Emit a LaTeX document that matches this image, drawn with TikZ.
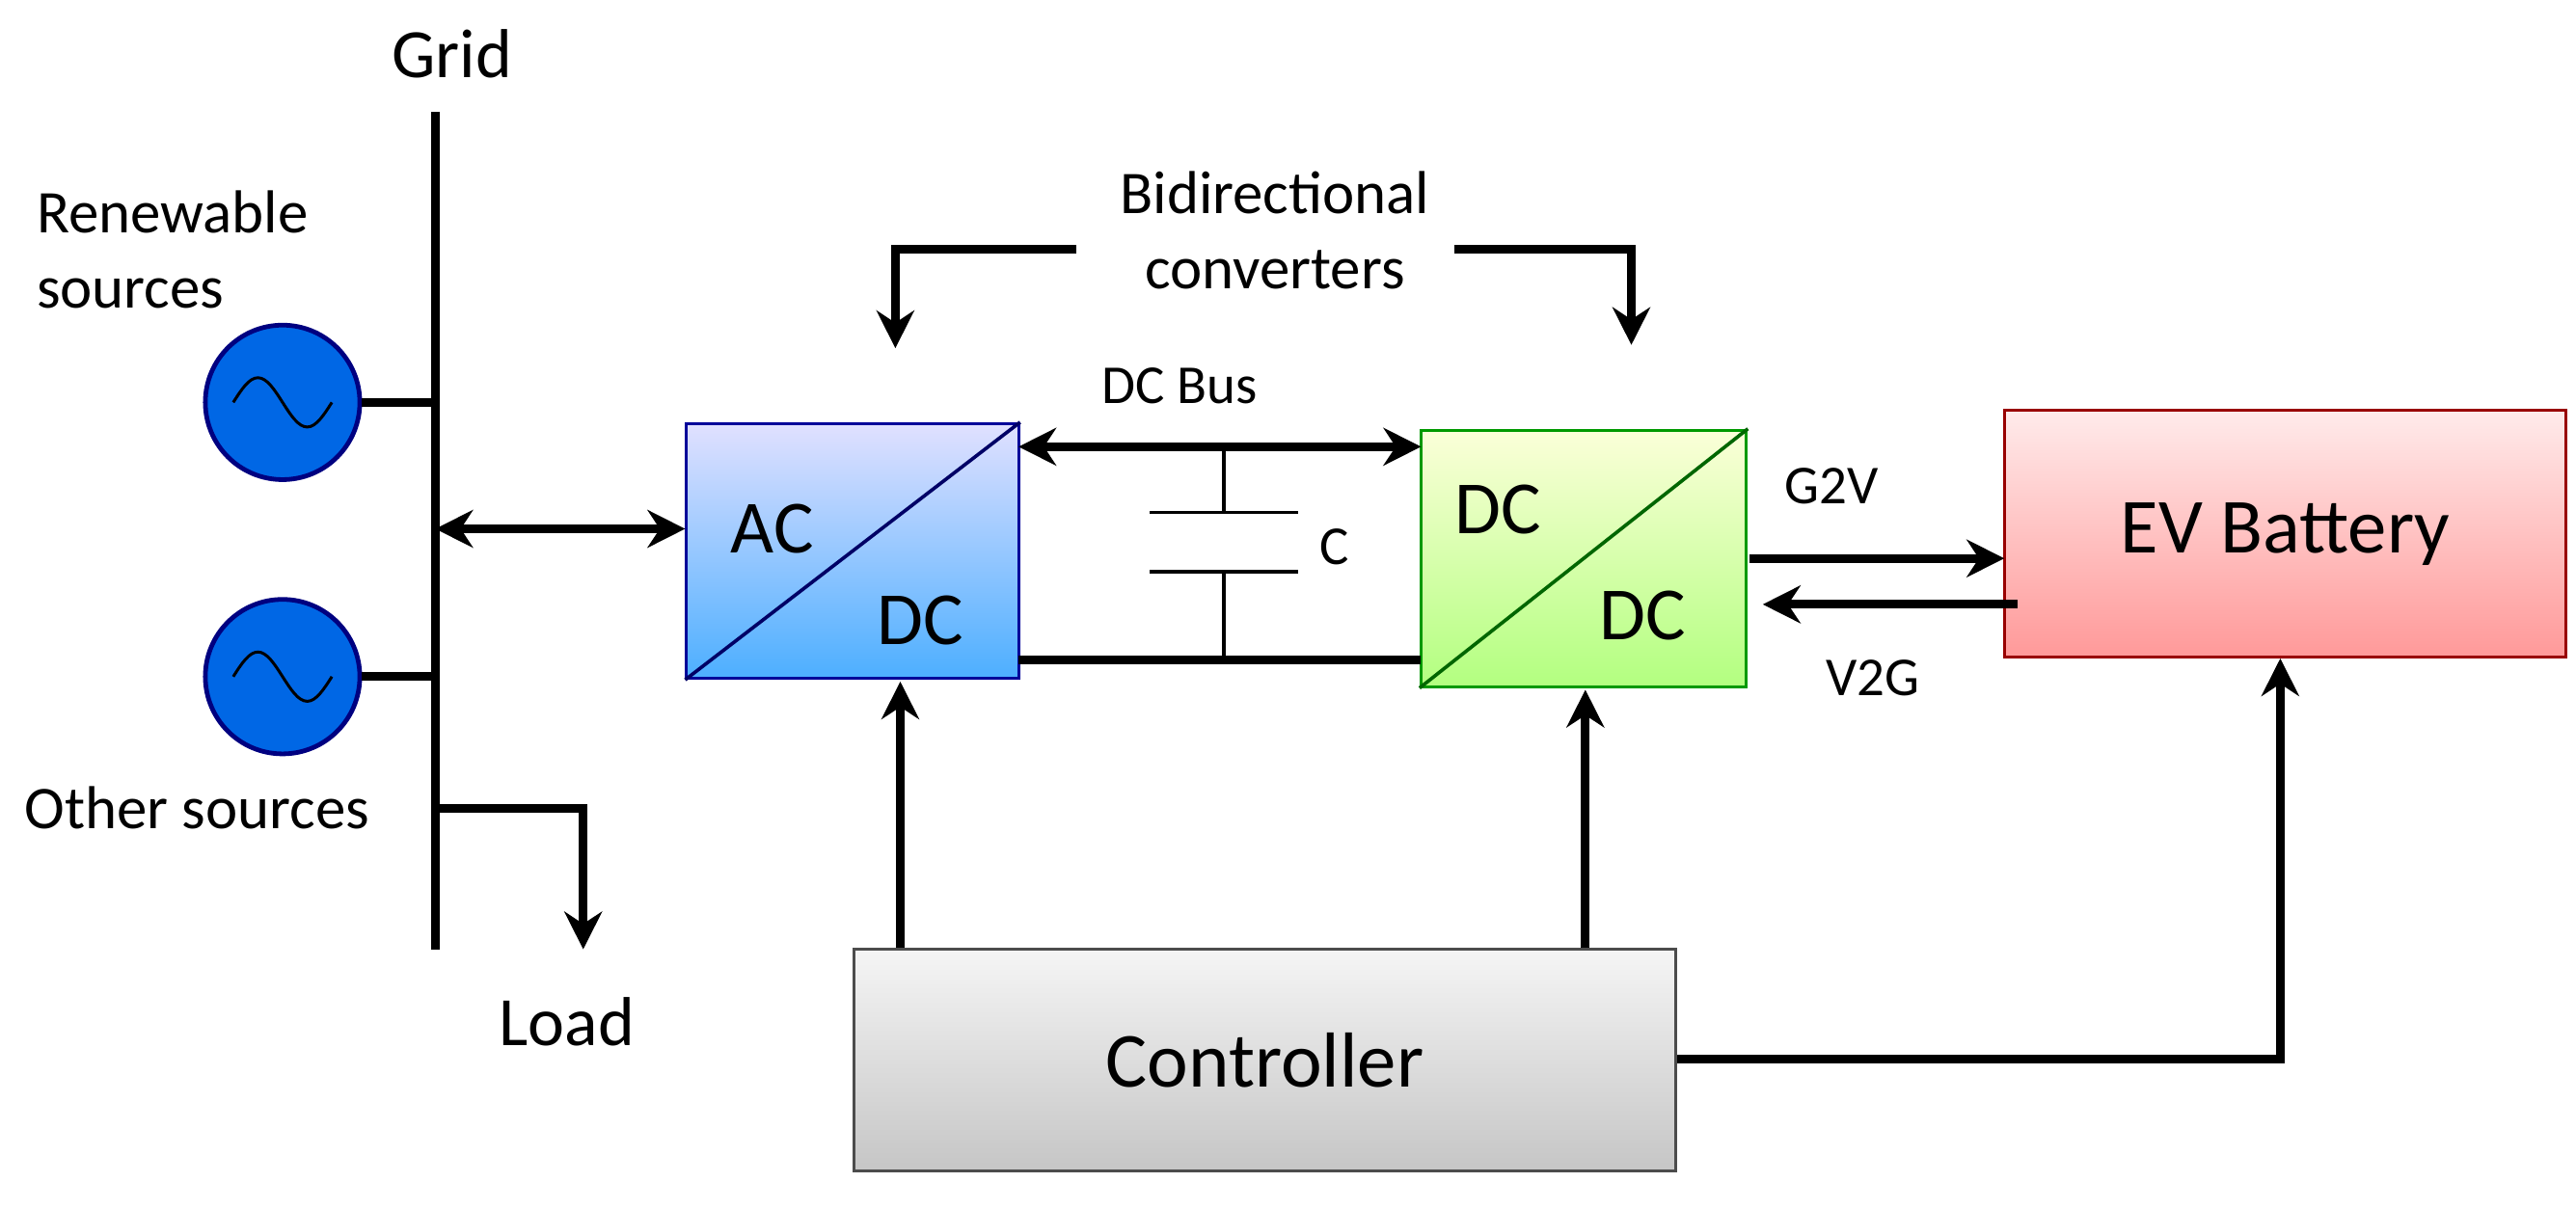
\documentclass[tikz,border=0pt]{standalone}
\usepackage{fontspec}
\setmainfont{Carlito}
\usetikzlibrary{arrows.meta}
\begin{document}
\begin{tikzpicture}[x=0.01cm,y=-0.01cm,
  ln/.style={line width=1.5pt},
  ar/.style={ln,-{Stealth[length=6.5pt,width=6.5pt]}},
  dar/.style={ln,{Stealth[length=6.5pt,width=6.5pt]}-{Stealth[length=6.5pt,width=6.5pt]}},
  box/.style={draw=#1!60!black,line width=0.5pt,inner sep=0pt},
  src/.style={circle,draw=blue!50!black,fill=blue!55!cyan!90!black,minimum size=0.94cm,line width=0.8pt},
  lab/.style={font=\fontsize{10.5}{13}\selectfont,align=center}]
\useasboundingbox (0,0) rectangle (1568,736);
% grid bus
\coordinate (gt) at (265,68); \coordinate (gb) at (265,578);
\draw[ln] (gt) -- (gb);
\node[lab,font=\fontsize{12}{14}\selectfont] (grid) at (275,33) {Grid};
\node[src] (s1) at (172,245) {};
\node[src] (s2) at (172,412) {};
\foreach \s in {s1,s2}{\draw[line width=0.5pt] ([xshift=-0.3cm]\s.center) sin ([xshift=-0.15cm,yshift=0.15cm]\s.center) cos (\s.center) sin ([xshift=0.15cm,yshift=-0.15cm]\s.center) cos ([xshift=0.3cm]\s.center);}
\coordinate (b1) at (265,245); \coordinate (b2) at (265,412);
\draw[ln] (s1) -- (b1); \draw[ln] (s2) -- (b2);
\node[lab,align=left] (rs) at (105,152) {Renewable\\sources};
\node[lab] (os) at (120,492) {Other sources};
\coordinate (lb) at (265,492); \coordinate (lc) at (355,492); \coordinate (le) at (355,578);
\draw[ar] (lb) -- (lc) -- (le);
\node[lab,font=\fontsize{12}{14}\selectfont] (load) at (345,622) {Load};
% AC/DC
\node[box=blue,top color=blue!12,bottom color=blue!45!cyan!70,minimum width=2.02cm,minimum height=1.55cm] (acdc) at (519,335.5) {};
\draw[line width=0.6pt,blue!40!black] (acdc.south west) -- (acdc.north east);
\node[lab,font=\fontsize{13}{15}\selectfont] at (470,322) {AC};
\node[lab,font=\fontsize{13}{15}\selectfont] at (560,378) {DC};
\coordinate (bm) at (265,322);
\draw[dar] (bm) -- (acdc.west|-bm);
% DC/DC
\node[box=green,top color=green!10!yellow!15,bottom color=green!60!yellow!50,minimum width=1.98cm,minimum height=1.56cm] (dcdc) at (964,340) {};
\draw[line width=0.6pt,green!40!black] (dcdc.south west) -- (dcdc.north east);
\node[lab,font=\fontsize{13}{15}\selectfont] at (912,310) {DC};
\node[lab,font=\fontsize{13}{15}\selectfont] at (1000,375) {DC};
% DC bus
\coordinate (t1) at (620,272); \coordinate (t2) at (865,272);
\draw[dar] (t1) -- (t2);
\coordinate (u1) at (620,402); \coordinate (u2) at (865,402);
\draw[ln] (u1) -- (u2);
\node[lab,font=\fontsize{9.5}{11}\selectfont] (dcb) at (718,235) {DC Bus};
\coordinate (c1) at (745,272); \coordinate (c2) at (745,312); \coordinate (c3) at (745,348); \coordinate (c4) at (745,402);
\draw[line width=0.6pt] (c1)--(c2) (c3)--(c4) (700,312)--(790,312) (700,348)--(790,348);
\node[lab,font=\fontsize{9.5}{11}\selectfont] (cl) at (812,333) {C};
% EV battery
\node[box=red,top color=red!8,bottom color=red!40,minimum width=3.42cm,minimum height=1.5cm,font=\fontsize{13.5}{15}\selectfont] (ev) at (1391,325) {EV Battery};
\coordinate (g1) at (1065,340); \coordinate (g2) at (1220,340);
\coordinate (v1) at (1228,368); \coordinate (v2) at (1073,368);
\draw[ar] (g1) -- (g2); \draw[ar] (v1) -- (v2);
\node[lab,font=\fontsize{9.5}{11}\selectfont] (g2v) at (1115,296) {G2V};
\node[lab,font=\fontsize{9.5}{11}\selectfont] (v2g) at (1140,413) {V2G};
% Controller
\node[box=gray,top color=gray!8,bottom color=gray!45,minimum width=5cm,minimum height=1.35cm,font=\fontsize{13.5}{15}\selectfont] (ctl) at (770,645.5) {Controller};
\draw[ar] (ctl.north-|548,0) -- (548,415);
\draw[ar] (ctl.north-|965,0) -- (965,420);
\coordinate (k1) at (1388,645);
\draw[ar] (ctl.east|-k1) -- (k1) -- (ev.south-|k1);
% bidirectional
\node[lab] (bd) at (776,140) {Bidirectional\\converters};
\coordinate (l1) at (655,152); \coordinate (l2) at (545,152); \coordinate (l3) at (545,212);
\coordinate (r1) at (885,152); \coordinate (r2) at (993,152); \coordinate (r3) at (993,210);
\draw[ar] (l1)--(l2)--(l3);
\draw[ar] (r1)--(r2)--(r3);
\end{tikzpicture}
\end{document}
